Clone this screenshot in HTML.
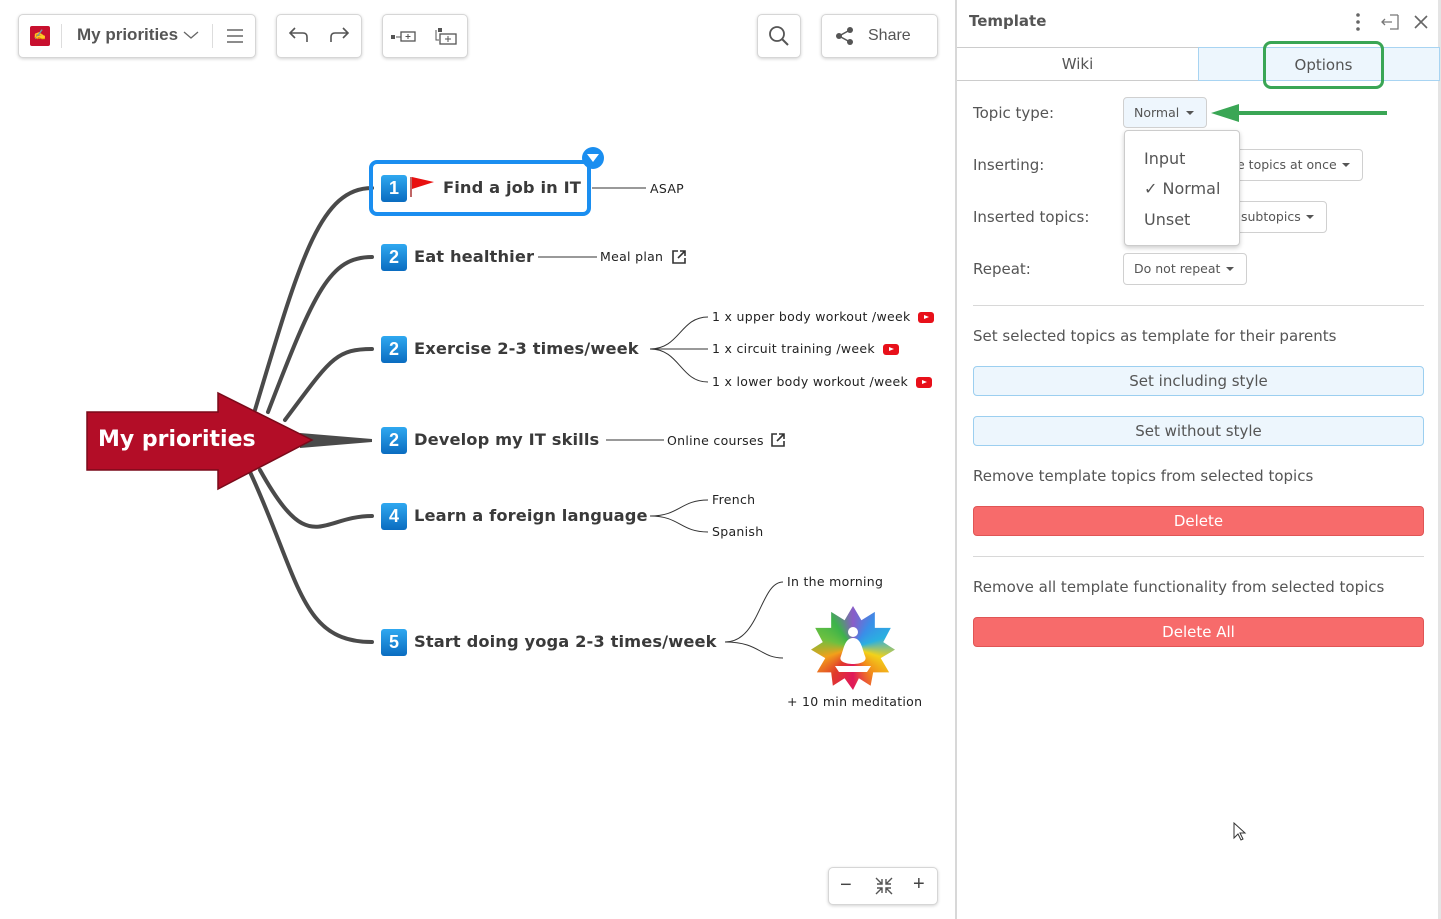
<!DOCTYPE html>
<html><head><meta charset="utf-8"><style>
*{box-sizing:border-box;margin:0;padding:0}
body{width:1441px;height:919px;position:relative;background:#fff;font-family:"Liberation Sans",sans-serif;overflow:hidden;color:#444}
.a{position:absolute}
.tb{position:absolute;background:#fff;border:1px solid #d6d6d6;border-radius:5px;box-shadow:0 1px 3px rgba(0,0,0,.18)}
.node{position:absolute;font-family:"DejaVu Sans",sans-serif;font-weight:bold;font-size:16.3px;color:#3a3a3a;letter-spacing:.1px;white-space:nowrap}
.badge{position:absolute;width:26px;height:27px;border-radius:3px;background:linear-gradient(#2fa8f0,#0a6cc0);color:#fff;font-weight:bold;font-size:18px;text-align:center;line-height:27px}
.sm{position:absolute;font-family:"DejaVu Sans",sans-serif;font-size:12.5px;color:#222;white-space:nowrap;letter-spacing:.3px}
.yt{display:inline-block;width:16px;height:11px;background:#e8101a;border-radius:3px;position:relative;vertical-align:middle;margin-left:8px}
.yt:after{content:"";position:absolute;left:6px;top:3px;border-left:5px solid #fff;border-top:2.5px solid transparent;border-bottom:2.5px solid transparent}
.lbl{position:absolute;font-family:"DejaVu Sans",sans-serif;font-size:15px;color:#555}
.dd{position:absolute;border:1px solid #d0d0d0;border-radius:4px;font-family:"DejaVu Sans",sans-serif;font-size:12.5px;color:#555;padding-left:10px;line-height:30px;background:#fff;white-space:nowrap}
.dd:after{content:"";position:absolute;right:12px;top:13px;border-top:4px solid #555;border-left:4px solid transparent;border-right:4px solid transparent}
.bb{position:absolute;left:973px;width:451px;height:30px;border:1px solid #9ccff0;border-radius:4px;background:#edf6fd;text-align:center;line-height:28px;font-family:"DejaVu Sans",sans-serif;font-size:15px;color:#555}
.rb{position:absolute;left:973px;width:451px;height:30px;border-radius:4px;background:#f76b6b;border:1px solid #e05555;text-align:center;line-height:28px;font-family:"DejaVu Sans",sans-serif;font-size:15px;color:#fff}
</style></head><body>

<!-- toolbars -->
<div class="tb" style="left:18px;top:14px;width:238px;height:44px"></div>
<div class="a" style="left:30px;top:26px;width:20px;height:20px;background:#c8102e;border-radius:2px;color:#fff;font-size:10px;text-align:center;line-height:20px;font-weight:bold">✍</div>
<div class="a" style="left:61px;top:24px;width:1px;height:24px;background:#ddd"></div>
<div class="a" style="left:77px;top:25px;font-size:17px;font-weight:bold;color:#555">My priorities</div>
<svg class="a" style="left:183px;top:30px" width="16" height="10"><path d="M1 2l7 6 7-6" stroke="#666" fill="none" stroke-width="1.3"/></svg>
<div class="a" style="left:212px;top:24px;width:1px;height:24px;background:#ddd"></div>
<svg class="a" style="left:226px;top:28px" width="18" height="16"><path d="M1 2h16M1 8h16M1 14h16" stroke="#666" stroke-width="1.5"/></svg>
<div class="tb" style="left:276px;top:14px;width:86px;height:44px"></div>
<svg class="a" style="left:287px;top:26px" width="64" height="20"><path d="M20 16v-5q0-4-4-4H3M8 2L3 7l5 5" stroke="#555" fill="none" stroke-width="1.6"/><path d="M44 16v-5q0-4 4-4h13M56 2l5 5-5 5" stroke="#555" fill="none" stroke-width="1.6"/></svg>
<div class="tb" style="left:382px;top:14px;width:86px;height:44px"></div>
<svg class="a" style="left:390px;top:26px" width="72" height="20"><rect x="1" y="9" width="4" height="4" fill="#555"/><path d="M6 11h5" stroke="#555"/><rect x="11" y="6" width="14" height="9" fill="none" stroke="#555" stroke-width="1.3"/><path d="M18 8v5M15.5 10.5h5" stroke="#555"/><rect x="48" y="2" width="4" height="4" fill="#555"/><path d="M46 4v10h3" stroke="#555" fill="none"/><rect x="50" y="8" width="16" height="10" fill="none" stroke="#555" stroke-width="1.3"/><path d="M58 10v6M55 13h6" stroke="#555"/></svg>
<div class="tb" style="left:757px;top:14px;width:44px;height:44px"></div>
<svg class="a" style="left:768px;top:25px" width="22" height="22"><circle cx="9" cy="9" r="7" stroke="#555" fill="none" stroke-width="1.8"/><path d="M14 14l6 6" stroke="#555" stroke-width="2"/></svg>
<div class="tb" style="left:821px;top:14px;width:117px;height:44px"></div>
<svg class="a" style="left:835px;top:26px" width="20" height="20"><circle cx="15" cy="4" r="3" fill="#555"/><circle cx="4" cy="10" r="3" fill="#555"/><circle cx="15" cy="16" r="3" fill="#555"/><path d="M15 4L4 10l11 6" stroke="#555" fill="none" stroke-width="1.5"/></svg>
<div class="a" style="left:868px;top:27px;font-size:16px;color:#555">Share</div>

<!-- map connectors -->
<svg class="a" style="left:0;top:0" width="955" height="919">
<g fill="none" stroke="#4a4a4a" stroke-linecap="round">
<path d="M255 410 C300 260,320 188,372 188" stroke-width="4"/>
<path d="M268 412 C315 290,330 257,372 257" stroke-width="4"/>
<path d="M285 420 C330 360,335 349,372 349" stroke-width="4"/>
<path d="M260 470 C310 560,320 516,372 516" stroke-width="4"/>
<path d="M250 472 C300 580,300 642,372 642" stroke-width="4"/>
</g>
<path d="M300 433 L372 439 L372 442 L300 448Z" fill="#4a4a4a"/>
<path d="M87 412 H218 V393 L312 440 L218 489 V470 H87Z" fill="#b30d27" stroke="#7a0a1a" stroke-width="1.5"/>
<g fill="none" stroke="#333" stroke-width="1">
<path d="M592 188 H646"/>
<path d="M538 257 H597"/>
<path d="M650 349 H708"/>
<path d="M650 349 C680 349,680 317,708 317"/>
<path d="M650 349 C680 349,680 382,708 382"/>
<path d="M606 440 H664"/>
<path d="M650 516 C680 516,680 500,708 500"/>
<path d="M650 516 C680 516,680 532,708 532"/>
<path d="M725 642 C760 642,760 582,783 582"/>
<path d="M725 642 C760 642,760 658,783 658"/>
</g>
</svg>
<div class="a" style="left:98px;top:427px;color:#fff;font-family:'DejaVu Sans',sans-serif;font-weight:bold;font-size:22px">My priorities</div>

<!-- nodes -->
<div class="a" style="left:369px;top:160px;width:222px;height:56px;border:4px solid #1a8ef0;border-radius:8px"></div>
<div class="a" style="left:582px;top:147px;width:22px;height:22px;border-radius:50%;background:#1a8ef0"></div>
<div class="a" style="left:587px;top:154px;border-top:8px solid #fff;border-left:6px solid transparent;border-right:6px solid transparent"></div>
<div class="badge" style="left:381px;top:175px">1</div>
<svg class="a" style="left:409px;top:175px" width="28" height="24"><path d="M2 2v20" stroke="#a33" stroke-width="1.5"/><path d="M3 2l22 5-22 7z" fill="#e81010"/></svg>
<div class="node" style="left:443px;top:178px">Find a job in IT</div>
<div class="sm" style="left:650px;top:181px">ASAP</div>

<div class="badge" style="left:381px;top:244px">2</div>
<div class="node" style="left:414px;top:247px">Eat healthier</div>
<div class="sm" style="left:600px;top:249px">Meal plan</div>
<svg class="a" style="left:671px;top:249px" width="16" height="16"><path d="M7 2H2v12h12V9M9 2h5v5M14 2L7 9" stroke="#333" fill="none" stroke-width="1.6"/></svg>

<div class="badge" style="left:381px;top:336px">2</div>
<div class="node" style="left:414px;top:339px">Exercise 2-3 times/week</div>
<div class="sm" style="left:712px;top:309px">1 x upper body workout /week<span class="yt"></span></div>
<div class="sm" style="left:712px;top:341px">1 x circuit training /week<span class="yt"></span></div>
<div class="sm" style="left:712px;top:374px">1 x lower body workout /week<span class="yt"></span></div>

<div class="badge" style="left:381px;top:427px">2</div>
<div class="node" style="left:414px;top:430px">Develop my IT skills</div>
<div class="sm" style="left:667px;top:433px">Online courses</div>
<svg class="a" style="left:770px;top:432px" width="16" height="16"><path d="M7 2H2v12h12V9M9 2h5v5M14 2L7 9" stroke="#333" fill="none" stroke-width="1.6"/></svg>

<div class="badge" style="left:381px;top:503px">4</div>
<div class="node" style="left:414px;top:506px">Learn a foreign language</div>
<div class="sm" style="left:712px;top:492px">French</div>
<div class="sm" style="left:712px;top:524px">Spanish</div>

<div class="badge" style="left:381px;top:629px">5</div>
<div class="node" style="left:414px;top:632px">Start doing yoga 2-3 times/week</div>
<div class="sm" style="left:787px;top:574px">In the morning</div>
<div class="a" style="left:811px;top:606px;width:84px;height:84px;background:conic-gradient(from 0deg,#8a5cc8,#3a8ee8,#2ab0e0,#f2d21a,#f28a1a,#e0185a,#e03a2a,#f2a01a,#6cc040,#3cb34a,#8a5cc8);clip-path:polygon(50% 0%,60% 17%,76% 7%,76% 26%,95% 26%,86% 43%,100% 52%,83% 62%,93% 79%,74% 79%,71% 95%,57% 86%,50% 100%,40% 86%,26% 95%,24% 79%,7% 79%,17% 62%,0% 52%,14% 43%,5% 26%,24% 26%,24% 7%,40% 17%)"></div>
<svg class="a" style="left:811px;top:606px" width="84" height="84"><circle cx="42" cy="26" r="5" fill="#fff"/><path d="M42 32c-8 0-9 10-12 18-3 6 6 8 12 8s15-2 12-8c-3-8-4-18-12-18z M24 60h36l-4 6H28z" fill="#fff"/></svg>
<div class="sm" style="left:787px;top:694px">+ 10 min meditation</div>

<!-- zoom controls -->
<div class="tb" style="left:828px;top:867px;width:110px;height:38px"></div>
<div class="a" style="left:840px;top:874px;font-size:20px;color:#444">−</div>
<svg class="a" style="left:874px;top:876px" width="20" height="20"><path d="M2 2l6 6M8 3v5H3M18 2l-6 6M12 3v5h5M2 18l6-6M3 12h5v5M18 18l-6-6M17 12h-5v5" stroke="#555" fill="none" stroke-width="1.4"/></svg>
<div class="a" style="left:913px;top:873px;font-size:20px;color:#444">+</div>

<!-- right panel -->
<div class="a" style="left:955px;top:0;width:2px;height:919px;background:#d8d8d8"></div>
<div class="a" style="left:1438px;top:0;width:3px;height:919px;background:#e4e4e4"></div>
<div class="a" style="left:969px;top:12px;font-family:'DejaVu Sans',sans-serif;font-size:15px;font-weight:bold;color:#555">Template</div>
<svg class="a" style="left:1350px;top:12px" width="82" height="20"><circle cx="8" cy="3" r="1.8" fill="#666"/><circle cx="8" cy="10" r="1.8" fill="#666"/><circle cx="8" cy="17" r="1.8" fill="#666"/><path d="M40 3h8M48 3v14h-8M42 10h-10M35 7l-3 3 3 3" stroke="#777" fill="none" stroke-width="1.3"/><path d="M65 4l12 12M77 4L65 16" stroke="#666" stroke-width="1.6"/></svg>
<div class="a" style="left:957px;top:47px;width:241px;height:34px;border-top:1px solid #ccc;border-bottom:1px solid #ccc;text-align:center;line-height:32px;font-family:'DejaVu Sans',sans-serif;font-size:15px;color:#555">Wiki</div>
<div class="a" style="left:1198px;top:47px;width:242px;height:34px;border:1px solid #a8d4f2;background:#edf6fd"></div>
<div class="a" style="left:1263px;top:41px;width:121px;height:48px;border:3px solid #3aa655;border-radius:8px;text-align:center;line-height:42px;font-family:'DejaVu Sans',sans-serif;font-size:15px;color:#555">Options</div>

<div class="lbl" style="left:973px;top:104px">Topic type:</div>
<div class="dd" style="left:1123px;top:97px;width:84px;height:31px;background:#eef6fd">Normal</div>
<svg class="a" style="left:1210px;top:102px" width="180" height="22"><path d="M20 11H177" stroke="#3aa655" stroke-width="4"/><path d="M1 11L29 2v18z" fill="#3aa655"/></svg>
<div class="lbl" style="left:973px;top:156px">Inserting:</div>
<div class="dd" style="left:1200px;top:149px;width:163px;height:32px;padding-left:36px">e topics at once</div>
<div class="lbl" style="left:973px;top:208px">Inserted topics:</div>
<div class="dd" style="left:1200px;top:201px;width:127px;height:32px;padding-left:40px">subtopics</div>
<div class="lbl" style="left:973px;top:260px">Repeat:</div>
<div class="dd" style="left:1123px;top:253px;width:124px;height:32px">Do not repeat</div>
<div class="a" style="left:1124px;top:130px;width:116px;height:116px;background:#fff;border:1px solid #ccc;border-radius:4px;box-shadow:0 2px 5px rgba(0,0,0,.2);font-family:'DejaVu Sans',sans-serif;font-size:16px;color:#555">
<div class="a" style="left:19px;top:18px">Input</div>
<div class="a" style="left:19px;top:48px">✓ Normal</div>
<div class="a" style="left:19px;top:79px">Unset</div>
</div>
<div class="a" style="left:973px;top:305px;width:451px;height:1px;background:#d8d8d8"></div>
<div class="lbl" style="left:973px;top:327px">Set selected topics as template for their parents</div>
<div class="bb" style="top:366px">Set including style</div>
<div class="bb" style="top:416px">Set without style</div>
<div class="lbl" style="left:973px;top:467px">Remove template topics from selected topics</div>
<div class="rb" style="top:506px">Delete</div>
<div class="a" style="left:973px;top:556px;width:451px;height:1px;background:#d8d8d8"></div>
<div class="lbl" style="left:973px;top:578px">Remove all template functionality from selected topics</div>
<div class="rb" style="top:617px">Delete All</div>
<svg class="a" style="left:1233px;top:822px" width="14" height="20"><path d="M1 1v15l4-4 3 6 2-1-3-6h5z" fill="#fff" stroke="#333"/></svg>
</body></html>
